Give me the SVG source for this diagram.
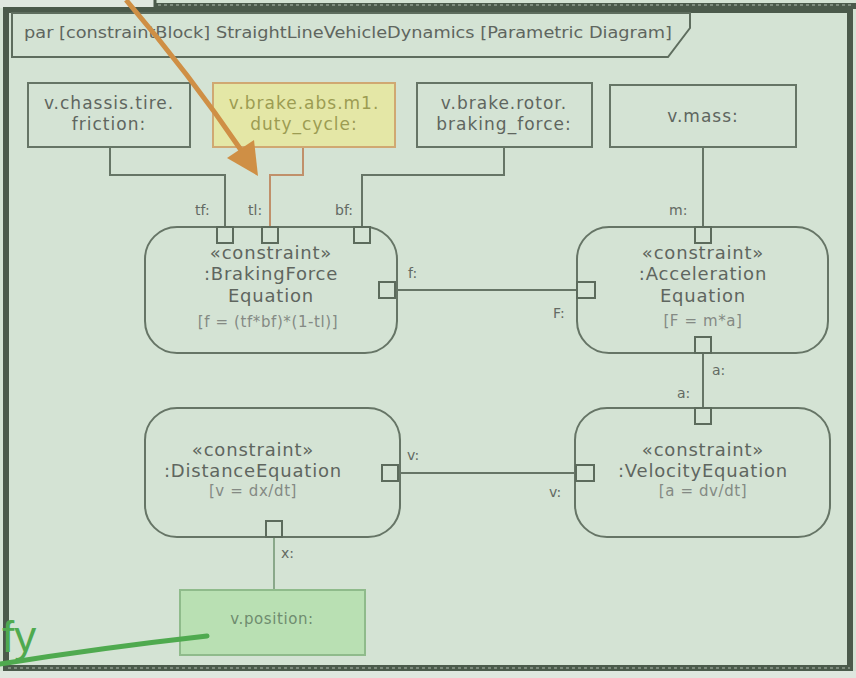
<svg xmlns="http://www.w3.org/2000/svg" width="856" height="678" viewBox="0 0 856 678">
<defs>
<style>
.bg{fill:#d4e3d4}
.box{fill:#d4e3d4;stroke:#667566;stroke-width:2}
.cn{fill:#d4e3d4;stroke:#667566;stroke-width:2}
.port{fill:#d4e3d4;stroke:#5c6b5c;stroke-width:2}
.conn{fill:none;stroke:#667566;stroke-width:2}
.t{font-family:"DejaVu Sans","Liberation Sans",sans-serif;fill:#5f665f;text-anchor:middle}
.bt{font-size:17px;letter-spacing:1px}
.nm{font-size:18px;letter-spacing:0.8px}
.fm{font-size:15px;fill:#848a84;letter-spacing:0.6px}
.lb{font-family:"DejaVu Sans","Liberation Sans",sans-serif;font-size:14px;fill:#636a63}
</style>
</defs>
<rect x="0" y="0" width="856" height="678" class="bg"/>
<rect x="0" y="0" width="156" height="8" fill="#e0e8e0"/>
<rect x="0" y="671" width="856" height="7" fill="#dfe7df"/>
<!-- frame -->
<g id="frame">
<line x1="155" y1="0" x2="155" y2="9" stroke="#4b5a4b" stroke-width="3"/>
<line x1="155" y1="6" x2="856" y2="6" stroke="#4b5a4b" stroke-width="6"/>
<line x1="158" y1="5" x2="852" y2="5" stroke="#7d8b7d" stroke-width="2" stroke-dasharray="3 3"/>
<rect x="6" y="10" width="844" height="658" fill="none" stroke="#4b5a4b" stroke-width="6"/>
<line x1="8" y1="668" x2="850" y2="668" stroke="#7d8b7d" stroke-width="2" stroke-dasharray="3 3"/>
<polygon points="12,13 690,13 690,28 668,57 12,57" fill="#d4e3d4" stroke="#5e6d5e" stroke-width="2"/>
<text x="24" y="38" class="lb" style="font-size:15px;fill:#5f665f" textLength="648" lengthAdjust="spacingAndGlyphs">par [constraintBlock] StraightLineVehicleDynamics [Parametric Diagram]</text>
</g>
<!-- connectors -->
<g id="connectors">
<path class="conn" d="M110,147 V175 H225 V227"/>
<path class="conn" d="M303,147 V175 H270 V227" style="stroke:#c0906a"/>
<path class="conn" d="M504,147 V175 H362 V227"/>
<path class="conn" d="M703,147 V227"/>
<path class="conn" d="M395,290 H577"/>
<path class="conn" d="M703,353 V408"/>
<path class="conn" d="M398,473 H576"/>
<path class="conn" d="M274,537 V590" style="stroke:#8aa88a"/>
<text x="195" y="215" class="lb">tf:</text>
<text x="248" y="215" class="lb">tl:</text>
<text x="335" y="215" class="lb">bf:</text>
<text x="408" y="278" class="lb">f:</text>
<text x="669" y="215" class="lb">m:</text>
<text x="553" y="318" class="lb">F:</text>
<text x="712" y="375" class="lb">a:</text>
<text x="677" y="398" class="lb">a:</text>
<text x="407" y="460" class="lb">v:</text>
<text x="549" y="497" class="lb">v:</text>
<text x="281" y="558" class="lb">x:</text>
</g>
<!-- value property nodes -->
<g id="n_friction">
<rect x="28" y="83" width="162" height="64" class="box"/>
<text x="109" y="109" class="t bt">v.chassis.tire.</text>
<text x="109" y="130" class="t bt">friction:</text>
</g>
<g id="n_duty">
<rect x="213" y="83" width="182" height="64" class="box" style="fill:#e4e7a6;stroke:#d0a872"/>
<text x="304" y="109" class="t bt" style="fill:#9c9c52">v.brake.abs.m1.</text>
<text x="304" y="130" class="t bt" style="fill:#9c9c52">duty_cycle:</text>
</g>
<g id="n_force">
<rect x="417" y="83" width="175" height="64" class="box"/>
<text x="504" y="109" class="t bt">v.brake.rotor.</text>
<text x="504" y="130" class="t bt">braking_force:</text>
</g>
<g id="n_mass">
<rect x="610" y="85" width="186" height="62" class="box"/>
<text x="703" y="122" class="t bt">v.mass:</text>
</g>
<!-- constraint nodes -->
<g id="n_braking">
<rect x="145" y="227" width="252" height="126" rx="32" class="cn"/>
<text x="271" y="259" class="t nm">«constraint»</text>
<text x="271" y="280" class="t nm">:BrakingForce</text>
<text x="271" y="302" class="t nm">Equation</text>
<text x="268" y="327" class="t fm">[f = (tf*bf)*(1-tl)]</text>
<rect x="217" y="227" width="16" height="16" class="port"/>
<rect x="262" y="227" width="16" height="16" class="port"/>
<rect x="354" y="227" width="16" height="16" class="port"/>
<rect x="379" y="282" width="16" height="16" class="port"/>
</g>
<g id="n_accel">
<rect x="577" y="227" width="251" height="126" rx="32" class="cn"/>
<text x="703" y="259" class="t nm">«constraint»</text>
<text x="703" y="280" class="t nm">:Acceleration</text>
<text x="703" y="302" class="t nm">Equation</text>
<text x="703" y="326" class="t fm">[F = m*a]</text>
<rect x="695" y="227" width="16" height="16" class="port"/>
<rect x="577" y="282" width="18" height="16" class="port"/>
<rect x="695" y="337" width="16" height="16" class="port"/>
</g>
<g id="n_velocity">
<rect x="575" y="408" width="255" height="129" rx="32" class="cn"/>
<text x="703" y="456" class="t nm">«constraint»</text>
<text x="703" y="477" class="t nm">:VelocityEquation</text>
<text x="703" y="496" class="t fm">[a = dv/dt]</text>
<rect x="695" y="408" width="16" height="16" class="port"/>
<rect x="576" y="465" width="18" height="16" class="port"/>
</g>
<g id="n_distance">
<rect x="145" y="408" width="255" height="129" rx="32" class="cn"/>
<text x="253" y="456" class="t nm">«constraint»</text>
<text x="253" y="477" class="t nm">:DistanceEquation</text>
<text x="253" y="496" class="t fm">[v = dx/dt]</text>
<rect x="382" y="465" width="16" height="16" class="port"/>
<rect x="266" y="521" width="16" height="16" class="port"/>
</g>
<g id="n_position">
<rect x="180" y="590" width="185" height="65" class="box" style="fill:#b9e0b3;stroke:#8fbb8b"/>
<text x="272" y="624" class="t" style="font-size:15px;fill:#6f8c6f;letter-spacing:0.6px">v.position:</text>
</g>
<!-- annotations -->
<g id="annotations">
<path d="M126,0 Q190,75 241,150" fill="none" stroke="#cf8f45" stroke-width="5"/>
<polygon points="258,176 227,158 254,140" fill="#cf8f45"/>
<path d="M0,664 Q100,648 207,636" fill="none" stroke="#4faa4f" stroke-width="5" stroke-linecap="round"/>
<text x="2" y="652" style="font-family:'Liberation Sans',sans-serif;font-size:44px;fill:#4faa4f">fy</text>
</g>
</svg>
